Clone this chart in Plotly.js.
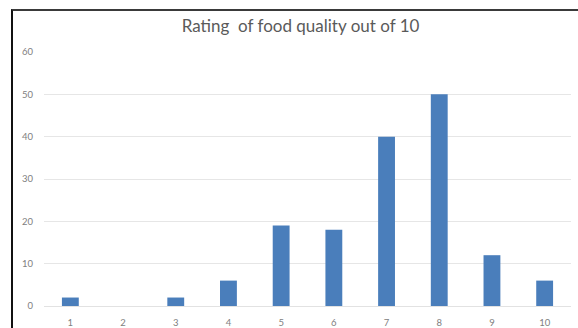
<!DOCTYPE html>
<html>
<head>
<meta charset="utf-8">
<script src="https://cdn.plot.ly/plotly-3.0.1.min.js"></script>
<style>
  html, body { margin: 0; padding: 0; background: #fff; }
  #chart { position: absolute; left: 0; top: 0; width: 578px; height: 328px; }
  #frame {
    position: absolute; left: 11px; top: 9px; right: 0; bottom: 0;
    border-left: 2px solid #111; border-top: 2px solid #3a3a3a;
    pointer-events: none;
  }
</style>
</head>
<body>
<div id="chart"></div>
<div id="frame"></div>
<script>
// Ratings given (1–10) and how many responses chose each one
const ratings = ['1', '2', '3', '4', '5', '6', '7', '8', '9', '10'];
const counts = [2, 0, 2, 6, 19, 18, 40, 50, 12, 6];
const yTicks = [0, 10, 20, 30, 40, 50, 60];
const chartTitle = 'Rating  of food quality out of 10';

const trace = {
  type: 'bar',
  x: ratings,
  y: counts,
  marker: { color: '#4a7ebb', line: { width: 0 } },
  hoverinfo: 'x+y'
};

const layout = {
  width: 578,
  height: 328,
  margin: { l: 44, r: 7, t: 52, b: 22 },
  paper_bgcolor: '#ffffff',
  plot_bgcolor: '#ffffff',
  bargap: 0.68,
  showlegend: false,
  font: { family: 'Lato, "Open Sans", sans-serif', color: '#808080' },
  title: {
    text: chartTitle,
    font: { family: 'Lato, "Open Sans", sans-serif', size: 17, color: '#5a5a5a' },
    x: 0.52, xanchor: 'center',
    y: 0.92, yanchor: 'middle'
  },
  xaxis: {
    type: 'category',
    showgrid: false,
    zeroline: false,
    showline: true,
    linecolor: '#e2e2e2',
    linewidth: 1,
    ticks: '',
    ticklabelstandoff: 8,
    tickfont: { size: 9.5, color: '#808080' }
  },
  yaxis: {
    range: [0, 60],
    tickvals: yTicks,
    ticktext: yTicks.map(String),
    showgrid: true,
    gridcolor: '#e6e6e6',
    gridwidth: 1,
    zeroline: false,
    showline: false,
    ticks: '',
    ticklabelstandoff: 10,
    tickfont: { size: 9.5, color: '#808080' }
  }
};

Plotly.newPlot('chart', [trace], layout, { displayModeBar: false, staticPlot: true });
</script>
</body>
</html>
